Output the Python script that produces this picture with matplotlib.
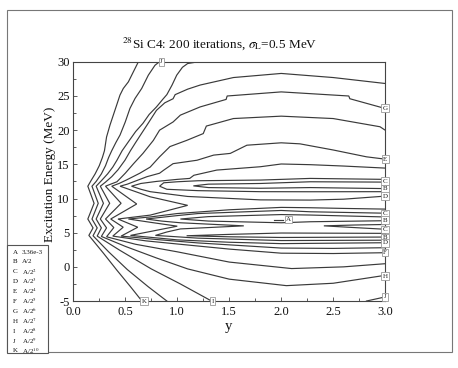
import matplotlib
matplotlib.use("Agg")
import matplotlib.pyplot as plt
from matplotlib.patches import Rectangle
from matplotlib.ticker import MultipleLocator

plt.rcParams['font.family'] = ['Liberation Serif', 'DejaVu Serif']
plt.rcParams['mathtext.fontset'] = 'stix'

# ---- contour lines: (y, excitation energy MeV) ----
K_line = [(.626,30),(.578,28.54),(.53,27.07),(.481,26.1),(.449,25.13),(.417,23.66),(.385,22.2),(.353,20.74),
          (.32,19.0),(.30,17.0),(.28,16.0),(.25,14.8),(.21,13.6),(.17,12.6),(.14,11.8),(.20,9.3),(.14,7.0),
          (.19,5.7),(.15,4.6),(.29,2.0),(.42,-.5),(.55,-2.9),(.66,-5)]
J_line = [(.828,30),(.786,29.5),(.722,28.05),(.658,26.1),(.594,24.64),(.545,23.18),(.50,21.2),(.45,19.3),
          (.41,18.2),(.37,17.0),(.34,16.0),(.31,14.8),(.27,13.6),(.22,12.5),(.18,11.8),(.24,9.3),(.18,7.0),
          (.23,5.7),(.19,4.55),(.34,2.2),(.52,-.4),(.72,-2.9),(.90,-5)]
I_line = [(1.2,30),(1.1,29.75),(1.05,29.2),(.995,28.05),(.95,26.6),(.90,25.2),(.86,24.5),(.80,23.4),(.73,22.3),
          (.67,21.0),(.60,19.8),(.53,18.3),(.47,17.0),(.42,15.6),(.38,14.6),(.33,13.6),(.27,12.6),(.22,11.8),
          (.29,9.3),(.22,7.0),(.27,5.7),(.23,4.5),(.45,2.4),(.75,-.3),(1.03,-2.5),(1.33,-5)]
H_line = [(3.0,26.83),(2.5,27.7),(2.0,28.3),(1.54,27.7),(1.22,26.6),(1.1,26.0),(.98,25.2),(.96,24.6),(.88,24.0),
          (.80,22.9),(.72,21.0),(.66,19.6),(.60,18.2),(.55,17.0),(.497,15.6),(.43,14.2),(.37,13.2),(.31,12.4),
          (.26,11.8),(.35,9.3),(.26,7.0),(.32,5.7),(.27,4.45),(.5,3.0),(.8,1.3),(1.1,-.3),(1.5,-1.8),
          (2.05,-2.75),(2.5,-2.4),(3.0,-1.24)]
G_line = [(3.0,23.17),(2.66,24.6),(2.65,25.0),(2.0,25.6),(1.48,25.0),(1.47,24.5),(1.22,23.4),(1.03,22.2),
          (.96,21.2),(.83,20.0),(.77,18.5),(.67,16.6),(.58,15.1),(.50,13.7),(.42,12.45),(.36,12.1),(.31,11.8),
          (.46,9.3),(.31,7.0),(.39,5.75),(.32,4.4),(.6,3.3),(1.0,2.2),(1.5,.7),(2.1,-.25),(2.6,0.0),(3.0,.46)]
F_line = [(3.0,20.0),(2.95,20.5),(2.5,21.7),(2.0,22.05),(1.54,21.7),(1.28,20.6),(1.25,19.5),(1.09,18.5),
          (.93,17.6),(.83,16.1),(.74,14.6),(.64,13.7),(.51,12.7),(.44,12.2),(.37,11.8),(.61,9.2),(.36,7.0),
          (.48,5.8),(.38,4.5),(.7,3.8),(1.03,3.3),(1.5,2.6),(2.0,2.0),(2.5,1.95),(3.0,2.07)]
E_line = [(3.0,15.76),(2.82,16.1),(2.5,17.1),(2.18,18.0),(2.0,18.15),(1.67,17.8),(1.51,16.6),(1.35,16.35),
          (1.19,15.6),(.96,15.1),(.87,14.15),(.83,13.7),(.71,13.2),(.58,12.45),(.52,12.1),(.45,11.8),(.6,11.0),
          (.74,10.25),(1.1,9.0),(.74,7.57),(.43,7.0),(.62,5.8),(.46,4.5),(.8,4.0),(1.2,3.5),(2.0,2.75),
          (2.5,2.7),(3.0,2.8)]
D_upper = [(3.0,14.45),(2.6,14.75),(2.28,14.95),(2.0,15.05),(1.8,14.65),(1.38,14.16),(1.16,13.4),(1.12,12.94),
           (1.0,12.8),(.8,12.5),(.65,12.2),(.56,11.8),(.65,11.35),(.74,11.0),(1.1,10.3),(1.8,9.8),(2.28,9.77),
           (2.6,9.9),(3.0,10.35)]
C_upper = [(3.0,12.8),(2.28,12.94),(1.8,12.7),(1.2,12.6),(1.0,12.45),(.87,12.3),(.83,11.8),(.9,11.35),
           (1.2,11.15),(1.8,11.0),(2.28,10.99),(3.0,11.0)]
B_upper = [(3.0,12.4),(2.28,12.45),(1.8,12.2),(1.3,12.1),(1.155,11.85),(1.3,11.6),(1.8,11.5),(2.28,11.6),(3.0,11.45)]
D_lower = [(3.0,8.45),(2.6,8.55),(2.28,8.65),(2.0,8.7),(1.5,8.35),(1.0,7.8),(.74,7.3),(.53,7.0),(.75,6.5),
           (1.0,5.95),(.75,5.2),(.55,4.6),(1.0,3.95),(1.5,3.6),(2.0,3.4),(3.0,3.53)]
C_lower = [(3.0,7.85),(2.28,8.06),(2.0,8.25),(1.2,7.8),(1.0,7.5),(.85,7.25),(.70,7.0),(.85,6.7),(1.03,6.45),
           (1.64,6.0),(1.03,5.55),(.9,5.1),(.79,4.6),(1.2,4.2),(2.0,3.85),(3.0,3.9)]
B_middle = [(3.0,7.3),(2.28,7.58),(2.0,7.65),(1.3,7.35),(1.03,7.0),(1.3,6.7),(2.0,6.45),(2.28,6.6),(3.0,6.75)]
C_valley = [(3.0,6.2),(2.7,6.12),(2.41,6.0),(2.7,5.75),(3.0,5.5)]
B_lower = [(3.0,4.9),(2.0,4.95),(1.5,4.75),(1.09,4.55),(1.5,4.4),(2.0,4.3),(3.0,4.36)]
A_peak = [(1.93,6.9),(2.02,6.9)]
J_corner = [(2.82,-5),(3.0,-4.4)]

contour_lines = [K_line, J_line, I_line, H_line, G_line, F_line, E_line, D_upper, C_upper, B_upper,
                 D_lower, C_lower, B_middle, C_valley, B_lower, A_peak, J_corner]

# labels placed on the contour lines
label_letters = ['J', 'G', 'E', 'C', 'B', 'D', 'C', 'B', 'C', 'B', 'D', 'F', 'H', 'J', 'K', 'I', 'A']
label_y = [0.85, 3.0, 3.0, 3.0, 3.0, 3.0, 3.0, 3.0, 3.0, 3.0, 3.0, 3.0, 3.0, 3.0, 0.68, 1.34, 2.07]
label_E = [30, 23.2, 15.75, 12.55, 11.4, 10.35, 7.82, 6.84, 5.48, 4.31, 3.53, 2.11, -1.35, -4.37, -5, -5, 6.94]

legend_letters = ['A', 'B', 'C', 'D', 'E', 'F', 'G', 'H', 'I', 'J', 'K']
legend_values = ['3.36e-3', 'A/2', r'A/2$^{2}$', r'A/2$^{3}$', r'A/2$^{4}$', r'A/2$^{5}$', r'A/2$^{6}$',
                 r'A/2$^{7}$', r'A/2$^{8}$', r'A/2$^{9}$', r'A/2$^{10}$']

x_ticks = [0.0, 0.5, 1.0, 1.5, 2.0, 2.5, 3.0]
y_ticks = [-5, 0, 5, 10, 15, 20, 25, 30]

fig = plt.figure(figsize=(4.58, 3.68), dpi=100)
ax = fig.add_axes([0.160, 0.182, 0.681, 0.650])

line_color = '#3a3a3a'
for pts in contour_lines:
    xs = [p[0] for p in pts]
    ys = [p[1] for p in pts]
    ax.plot(xs, ys, color=line_color, lw=0.85, solid_joinstyle='miter')

for t, xv, ev in zip(label_letters, label_y, label_E):
    ax.text(xv, ev, t, ha='center', va='center', fontsize=5, color='#222',
            bbox=dict(boxstyle='square,pad=0.2', fc='white', ec='#999', lw=0.6),
            clip_on=False, zorder=6)

ax.set_xlim(0, 3.0)
ax.set_ylim(-5, 30)
ax.set_xticks(x_ticks)
ax.set_xticklabels([f"{v:.1f}" for v in x_ticks])
ax.set_yticks(y_ticks)
ax.set_yticklabels([str(v) for v in y_ticks])
ax.xaxis.set_minor_locator(MultipleLocator(0.25))
ax.yaxis.set_minor_locator(MultipleLocator(2.5))
ax.tick_params(which='both', direction='in', colors='#444', labelcolor='#111', labelsize=9, width=0.6)
ax.tick_params(which='major', length=3)
ax.tick_params(axis='x', which='major', pad=3.5)
ax.tick_params(axis='y', which='major', pad=2.5)
ax.tick_params(which='minor', length=2)
for s in ax.spines.values():
    s.set_color('#444')
    s.set_linewidth(0.8)

fig.text(0.109, 0.527, 'Excitation Energy (MeV)', rotation=90, ha='center', va='center', fontsize=9.5, color='#111')
fig.text(0.498, 0.112, 'y', ha='center', va='center', fontsize=10.5, color='#111')
fig.text(0.48, 0.87, r'$^{28}$Si C4: 200 iterations, $\sigma_{\rm L}$=0.5 MeV', ha='center', va='baseline',
         fontsize=9.5, color='#111')

# outer frame
fig.patches.append(Rectangle((0.0153, 0.0435), 0.972, 0.930, transform=fig.transFigure,
                             fill=False, ec='#777', lw=0.8))
# legend box
fig.patches.append(Rectangle((0.0153, 0.0408), 0.0895, 0.293, transform=fig.transFigure,
                             fc='white', ec='#555', lw=0.8, zorder=10))
for i, (l, v) in enumerate(zip(legend_letters, legend_values)):
    yy = 1 - (252 + 9.9 * i) / 368
    fig.text(0.028, yy, l, ha='left', va='center', fontsize=5, color='#111', zorder=11)
    fig.text(0.048, yy, v, ha='left', va='center', fontsize=5, color='#111', zorder=11)

fig.savefig('out.png', dpi=100)
